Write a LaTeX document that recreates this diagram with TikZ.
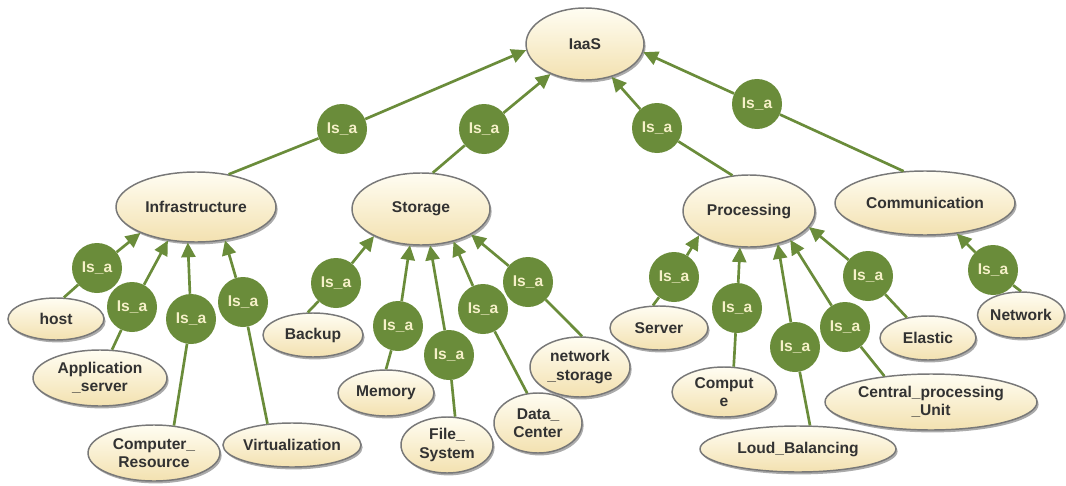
\documentclass[tikz,border=0pt]{standalone}
\usepackage{fontspec}
\setmainfont{Liberation Sans}
\usetikzlibrary{shapes.geometric,arrows.meta,shadows}
\definecolor{isagreen}{RGB}{106,140,58}
\definecolor{isatext}{RGB}{245,240,200}
\definecolor{eltop}{RGB}{255,253,242}
\definecolor{elbot}{RGB}{243,225,176}
\definecolor{elborder}{RGB}{120,120,120}
\definecolor{eltext}{RGB}{50,50,50}
\tikzset{
  ell/.style 2 args={ellipse, draw=elborder, line width=1.1pt, top color=eltop, bottom color=elbot,
    minimum width=#1*1.5pt, minimum height=#2*1.5pt, inner sep=0pt, align=center,
    font=\fontsize{11.7}{13.8}\selectfont\bfseries, text=eltext,
    drop shadow={shadow xshift=1.2pt, shadow yshift=-1.8pt, fill=black!55, opacity=0.6}},
  isa/.style={circle, fill=isagreen, minimum size=37.5pt, inner sep=0pt,
    font=\fontsize{11.7}{13.8}\selectfont\bfseries, text=isatext},
  conn/.style={draw=isagreen, line width=2pt},
  arr/.style={draw=isagreen, fill=isagreen, line width=2pt, -{Triangle[length=11pt,width=10.5pt]}}
}
\begin{document}
\begin{tikzpicture}[x=0.75pt,y=-0.75pt]
\useasboundingbox[fill=white] (0,0) rectangle (1066,485);
% ellipses
\node[ell={59}{36}] (iaas) at (585,44) {IaaS};
\node[ell={80}{35}] (infra) at (196,207) {Infrastructure};
\node[ell={69}{36}] (stor) at (421,209) {Storage};
\node[ell={66}{36}] (proc) at (749,211) {Processing};
\node[ell={90}{32}] (comm) at (925,203) {Communication};
\node[ell={48}{21}] (host) at (56,319) {host};
\node[ell={67}{28}] (app) at (100,378) {Application\\\_server};
\node[ell={66}{28}] (compres) at (154,453) {Computer\_\\Resource};
\node[ell={63}{22}] (virt) at (292,445) {Virtualization};
\node[ell={50}{22}] (backup) at (313,335) {Backup};
\node[ell={48}{23}] (mem) at (386,393) {Memory};
\node[ell={46}{28}] (file) at (447,445) {File\_\\System};
\node[ell={44}{30}] (data) at (538,423) {Data\_\\Center};
\node[ell={50}{30}] (nets) at (580,367) {network\\\_storage};
\node[ell={49}{22}] (server) at (659,328) {Server};
\node[ell={52}{25}] (compute) at (724,392) {Comput\\e};
\node[ell={98}{23}] (loud) at (798,449) {Loud\_Balancing};
\node[ell={106}{28}] (cpu) at (931,402) {Central\_processing\\\_Unit};
\node[ell={48}{22}] (elastic) at (928,338) {Elastic};
\node[ell={43}{23}] (network) at (1021,315) {Network};
% is_a circles
\node[isa] (c1) at (342,129) {Is\_a};
\node[isa] (c2) at (484,129) {Is\_a};
\node[isa] (c3) at (657,128) {Is\_a};
\node[isa] (c4) at (757,104) {Is\_a};
\node[isa] (h1) at (97,268) {Is\_a};
\node[isa] (h2) at (132,307) {Is\_a};
\node[isa] (h3) at (191,319) {Is\_a};
\node[isa] (h4) at (243,302) {Is\_a};
\node[isa] (s1) at (336,283) {Is\_a};
\node[isa] (s2) at (398,326) {Is\_a};
\node[isa] (s3) at (449,355) {Is\_a};
\node[isa] (s4) at (483,309) {Is\_a};
\node[isa] (s5) at (528,282) {Is\_a};
\node[isa] (p1) at (674,277) {Is\_a};
\node[isa] (p2) at (737,308) {Is\_a};
\node[isa] (p3) at (795,347) {Is\_a};
\node[isa] (p4) at (845,327) {Is\_a};
\node[isa] (p5) at (868,276) {Is\_a};
\node[isa] (n1) at (993,270) {Is\_a};
% connectors
\draw[conn] (infra.45) -- (c1);   \draw[arr] (c1) -- (iaas.186);
\draw[conn] (stor.72) -- (c2);    \draw[arr] (c2) -- (iaas.221);
\draw[conn] (proc.115) -- (c3);   \draw[arr] (c3) -- (iaas.309);
\draw[conn] (comm.124) -- (c4);   \draw[arr] (c4) -- (iaas.352);
\draw[conn] (host.70) -- (h1);    \draw[arr] (h1) -- (infra.205);
\draw[conn] (app.67) -- (h2);     \draw[arr] (h2) -- (infra.230);
\draw[conn] (compres.54) -- (h3); \draw[arr] (h3) -- (infra.257);
\draw[conn] (virt.139) -- (h4);   \draw[arr] (h4) -- (infra.311);
\draw[conn] (backup.103) -- (s1); \draw[arr] (s1) -- (stor.210);
\draw[conn] (mem.90) -- (s2);     \draw[arr] (s2) -- (stor.253);
\draw[conn] (file.74) -- (s3);    \draw[arr] (s3) -- (stor.284);
\draw[conn] (data.110) -- (s4);   \draw[arr] (s4) -- (stor.315);
\draw[conn] (nets.86) -- (s5);    \draw[arr] (s5) -- (stor.333);
\draw[conn] (server.105) -- (p1); \draw[arr] (p1) -- (proc.206);
\draw[conn] (compute.69) -- (p2); \draw[arr] (p2) -- (proc.256);
\draw[conn] (loud.63) -- (p3);    \draw[arr] (p3) -- (proc.311);
\draw[conn] (cpu.151) -- (p4);    \draw[arr] (p4) -- (proc.325);
\draw[conn] (elastic.136) -- (p5);\draw[arr] (p5) -- (proc.345);
\draw[conn] (network.90) -- (n1); \draw[arr] (n1) -- (comm.316);
\end{tikzpicture}
\end{document}
